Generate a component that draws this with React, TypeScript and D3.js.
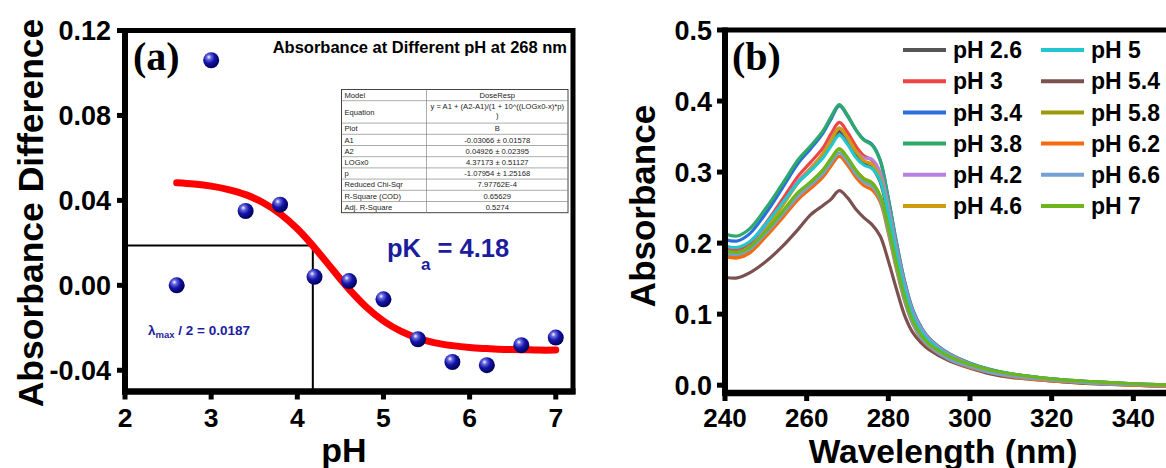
import React from 'react';
import * as d3 from 'd3';

// ---------- Panel (a) data ----------
const phValues = [2.6, 3.0, 3.4, 3.8, 4.2, 4.6, 5.0, 5.4, 5.8, 6.2, 6.6, 7.0];
const absDiff = [0.000, 0.106, 0.035, 0.038, 0.004, 0.002, -0.0066, -0.0254, -0.0361, -0.0376, -0.0282, -0.0246];
const fitPH = [2.6, 2.8, 3.0, 3.2, 3.4, 3.6, 3.8, 4.0, 4.2, 4.4, 4.6, 4.8, 5.0, 5.2, 5.4, 5.6, 5.8, 6.0, 6.2, 6.4, 6.6, 6.8, 7.0];
const fitValues = [0.0483, 0.0477, 0.0467, 0.0451, 0.0427, 0.0390, 0.0337, 0.0266, 0.0177, 0.0079, -0.0018, -0.0102, -0.0168, -0.0216, -0.0249, -0.0271, -0.0284, -0.0293, -0.0298, -0.0302, -0.0303, -0.0305, -0.0305];
const aXTicks = [2, 3, 4, 5, 6, 7];
const aYTicks = [-0.04, 0.0, 0.04, 0.08, 0.12];
const pKa = 4.18;
const halfValue = 0.0187;
const tableLabels = ['Model', 'Equation', 'Plot', 'A1', 'A2', 'LOGx0', 'p', 'Reduced Chi-Sqr', 'R-Square (COD)', 'Adj. R-Square'];
const tableValues = ['DoseResp', 'y = A1 + (A2-A1)/(1 + 10^((LOGx0-x)*p)|)', 'B', '-0.03066 ± 0.01578', '0.04926 ± 0.02395', '4.37173 ± 0.51127', '-1.07954 ± 1.25168', '7.97762E-4', '0.65629', '0.5274'];
const tableRowUnits = [1, 2, 1, 1, 1, 1, 1, 1, 1, 1];

// ---------- Panel (b) data ----------
const wavelengths = [240, 243, 246, 250, 254, 258, 261, 264, 266, 268, 270, 272, 274, 276, 278, 280, 282, 284, 286, 288, 290, 295, 300, 305, 310, 320, 330, 340, 350, 360];
const seriesNames = ['pH 2.6', 'pH 3', 'pH 3.4', 'pH 3.8', 'pH 4.2', 'pH 4.6', 'pH 5', 'pH 5.4', 'pH 5.8', 'pH 6.2', 'pH 6.6', 'pH 7'];
const seriesColors = ['#555555', '#ee4444', '#2a6fdb', '#2fa86c', '#b880e0', '#cc9c0a', '#22c6cf', '#7b514f', '#9a9a08', '#f56a0c', '#74a0d2', '#6cb61c'];
const specPH26 = [0.188, 0.185, 0.194, 0.221, 0.253, 0.286, 0.303, 0.323, 0.341, 0.357, 0.344, 0.325, 0.312, 0.306, 0.286, 0.237, 0.181, 0.131, 0.095, 0.073, 0.060, 0.040, 0.028, 0.020, 0.014, 0.008, 0.004, 0.001, 0.000, -0.002];
const specPH30 = [0.193, 0.190, 0.200, 0.228, 0.261, 0.295, 0.314, 0.334, 0.354, 0.370, 0.356, 0.337, 0.323, 0.317, 0.296, 0.245, 0.187, 0.136, 0.098, 0.076, 0.062, 0.041, 0.029, 0.020, 0.014, 0.008, 0.004, 0.001, -0.001, -0.003];
const specPH34 = [0.205, 0.203, 0.213, 0.242, 0.277, 0.313, 0.333, 0.355, 0.375, 0.393, 0.379, 0.360, 0.346, 0.339, 0.317, 0.263, 0.201, 0.146, 0.106, 0.082, 0.066, 0.044, 0.031, 0.022, 0.016, 0.009, 0.005, 0.002, 0.000, -0.002];
const specPH38 = [0.213, 0.210, 0.220, 0.249, 0.283, 0.318, 0.337, 0.358, 0.378, 0.395, 0.380, 0.360, 0.345, 0.338, 0.316, 0.262, 0.200, 0.145, 0.105, 0.081, 0.066, 0.044, 0.031, 0.022, 0.016, 0.009, 0.005, 0.002, 0.000, -0.002];
const specPH42 = [0.186, 0.183, 0.193, 0.221, 0.254, 0.288, 0.306, 0.326, 0.346, 0.362, 0.348, 0.330, 0.320, 0.318, 0.300, 0.252, 0.194, 0.142, 0.103, 0.080, 0.065, 0.043, 0.030, 0.021, 0.015, 0.008, 0.004, 0.001, 0.000, -0.002];
const specPH46 = [0.183, 0.180, 0.190, 0.218, 0.252, 0.286, 0.305, 0.326, 0.345, 0.362, 0.349, 0.330, 0.316, 0.311, 0.292, 0.242, 0.185, 0.134, 0.097, 0.075, 0.061, 0.041, 0.028, 0.019, 0.013, 0.006, 0.002, 0.000, -0.002, -0.004];
const specPH50 = [0.196, 0.194, 0.202, 0.227, 0.256, 0.286, 0.302, 0.320, 0.337, 0.352, 0.339, 0.321, 0.310, 0.305, 0.288, 0.242, 0.185, 0.135, 0.098, 0.076, 0.062, 0.041, 0.029, 0.020, 0.015, 0.008, 0.004, 0.001, -0.001, -0.002];
const specPH54 = [0.152, 0.151, 0.158, 0.174, 0.195, 0.220, 0.240, 0.253, 0.262, 0.274, 0.264, 0.248, 0.236, 0.226, 0.210, 0.175, 0.135, 0.098, 0.074, 0.060, 0.050, 0.034, 0.024, 0.016, 0.011, 0.006, 0.002, 0.000, -0.002, -0.003];
const specPH58 = [0.185, 0.183, 0.191, 0.214, 0.242, 0.270, 0.286, 0.303, 0.319, 0.333, 0.320, 0.303, 0.291, 0.285, 0.266, 0.221, 0.169, 0.122, 0.089, 0.069, 0.056, 0.037, 0.026, 0.018, 0.013, 0.007, 0.003, 0.000, -0.002, -0.003];
const specPH62 = [0.181, 0.179, 0.186, 0.209, 0.235, 0.262, 0.277, 0.293, 0.309, 0.322, 0.310, 0.293, 0.281, 0.275, 0.258, 0.214, 0.163, 0.118, 0.086, 0.066, 0.054, 0.036, 0.025, 0.018, 0.012, 0.006, 0.003, 0.000, -0.002, -0.003];
const specPH66 = [0.186, 0.184, 0.191, 0.214, 0.240, 0.267, 0.282, 0.298, 0.314, 0.327, 0.315, 0.298, 0.286, 0.280, 0.262, 0.217, 0.166, 0.120, 0.087, 0.067, 0.055, 0.036, 0.026, 0.018, 0.013, 0.007, 0.003, 0.001, -0.001, -0.002];
const specPH70 = [0.189, 0.187, 0.194, 0.217, 0.244, 0.272, 0.286, 0.303, 0.319, 0.332, 0.320, 0.303, 0.290, 0.284, 0.266, 0.222, 0.170, 0.124, 0.091, 0.071, 0.058, 0.040, 0.029, 0.021, 0.016, 0.009, 0.005, 0.002, 0.000, -0.001];
const spectra = [specPH26, specPH30, specPH34, specPH38, specPH42, specPH46, specPH50, specPH54, specPH58, specPH62, specPH66, specPH70];
const bXTicks = [240, 260, 280, 300, 320, 340];
const bYTicks = [0.0, 0.1, 0.2, 0.3, 0.4, 0.5];

const SANS = '"Liberation Sans", Arial, sans-serif';
const SERIF = '"Liberation Serif", "Times New Roman", serif';
const NAVY = '#1c1c9e';

export default function App() {
  // Panel (a) scales
  const xA = d3.scaleLinear().domain([2, 7.2]).range([125, 573]);
  const yA = d3.scaleLinear().domain([-0.05, 0.12]).range([391.5, 30.5]);
  // Panel (b) scales
  const xB = d3.scaleLinear().domain([240, 360]).range([725, 1215]);
  const yB = d3.scaleLinear().domain([-0.011, 0.5]).range([393, 30]);

  const fitLine = d3.line<number>()
    .x((_, i) => xA(fitPH[i]))
    .y((d) => yA(d))
    .curve(d3.curveCatmullRom.alpha(0.5));

  const specLine = d3.line<number>()
    .x((_, i) => xB(wavelengths[i]))
    .y((d) => yB(d))
    .curve(d3.curveCatmullRom.alpha(0.5));

  const fmtA = (v: number) => d3.format('.2f')(v).replace('\u2212', '-');
  const fmtB = (v: number) => d3.format('.1f')(v).replace('\u2212', '-');

  // table geometry
  const tX0 = 341.5, tX1 = 568, tSplit = 426.5, tTop = 89.5, rowH = 11.2;
  let acc = tTop;
  const rows = tableLabels.map((lab, i) => {
    const y0 = acc;
    const h = tableRowUnits[i] * rowH;
    acc += h;
    return { lab, val: tableValues[i], y0, h };
  });

  return (
    <svg width={1166} height={468} style={{ position: 'absolute', left: 0, top: 0, background: '#fff' }}
      fontFamily={SANS}>
      <defs>
        <radialGradient id="sphere" cx="38%" cy="35%" r="65%" fx="35%" fy="30%">
          <stop offset="0%" stopColor="#ffffff" />
          <stop offset="22%" stopColor="#6a6ae0" />
          <stop offset="55%" stopColor="#1414a8" />
          <stop offset="100%" stopColor="#00005a" />
        </radialGradient>
        <clipPath id="clipB">
          <rect x={xB(240)} y={yB(0.5)} width={xB(360) - xB(240)} height={yB(-0.011) - yB(0.5)} />
        </clipPath>
      </defs>

      {/* ================= Panel (a) ================= */}
      {/* table */}
      <g fontFamily={SANS} fontSize={7.6} fill="#222">
        <rect x={tX0} y={tTop} width={tX1 - tX0} height={acc - tTop} fill="#fff" stroke="#444" strokeWidth={1} />
        <line x1={tSplit} x2={tSplit} y1={tTop} y2={acc} stroke="#888" strokeWidth={0.7} />
        {rows.map((r, i) => (
          <g key={i}>
            {i > 0 && <line x1={tX0} x2={tX1} y1={r.y0} y2={r.y0} stroke="#888" strokeWidth={0.7} />}
            <text x={tX0 + 3} y={r.y0 + r.h / 2 + 2.7}>{r.lab}</text>
            {r.val.includes('|') ? (
              r.val.split('|').map((part, k) => (
                <text key={k} x={(tSplit + tX1) / 2} y={r.y0 + 8 + k * 9} textAnchor="middle">{part}</text>
              ))
            ) : (
              <text x={(tSplit + tX1) / 2} y={r.y0 + r.h / 2 + 2.7} textAnchor="middle">{r.val}</text>
            )}
          </g>
        ))}
      </g>

      {/* half-value guide lines */}
      <polyline
        points={`${xA(2)},${yA(halfValue)} ${xA(pKa)},${yA(halfValue)} ${xA(pKa)},${yA(-0.05)}`}
        fill="none" stroke="#000" strokeWidth={2} />

      {/* fit curve */}
      <path d={fitLine(fitValues) || ''} fill="none" stroke="#ff0000" strokeWidth={7} strokeLinecap="round" />

      {/* data points */}
      {phValues.map((p, i) => (
        <circle key={i} cx={xA(p)} cy={yA(absDiff[i])} r={8} fill="url(#sphere)" />
      ))}

      {/* frame a */}
      <rect x={xA(2)} y={yA(0.12)} width={xA(7.2) - xA(2)} height={yA(-0.05) - yA(0.12)} fill="none" stroke="#000" strokeWidth={5} />
      <line x1={xA(2)} x2={xA(2)} y1={yA(0.12) - 2.5} y2={yA(-0.05) + 3} stroke="#000" strokeWidth={6} />
      <line x1={xA(2) - 3} x2={xA(7.2) + 2.5} y1={yA(-0.05)} y2={yA(-0.05)} stroke="#000" strokeWidth={6.5} />

      {/* ticks a */}
      {aYTicks.map((t) => (
        <g key={t}>
          <line x1={xA(2) - 8} x2={xA(2)} y1={yA(t)} y2={yA(t)} stroke="#000" strokeWidth={5} />
          <text x={xA(2) - 14} y={yA(t)} dy="0.36em" textAnchor="end" fontSize={27} fontWeight="bold">{fmtA(t)}</text>
        </g>
      ))}
      {aXTicks.map((t) => (
        <g key={t}>
          <line x1={xA(t)} x2={xA(t)} y1={yA(-0.05)} y2={yA(-0.05) + 8} stroke="#000" strokeWidth={5} />
          <text x={xA(t)} y={427} textAnchor="middle" fontSize={26.5} fontWeight="bold">{t}</text>
        </g>
      ))}

      {/* labels a */}
      <text x={133} y={70} fontFamily={SERIF} fontWeight="bold" fontSize={40}>(a)</text>
      <text x={567} y={53} textAnchor="end" fontSize={16.5} fontWeight="bold">Absorbance at Different pH at 268 nm</text>
      <text x={387} y={257} fontSize={25.5} fontWeight="bold" fill={NAVY}>
        pK<tspan fontSize={17} dy={13}>a</tspan><tspan dy={-13}> = 4.18</tspan>
      </text>
      <text x={148} y={335} fontSize={13.5} fontWeight="bold" fill={NAVY}>
        λ<tspan fontSize={9.5} dy={3}>max</tspan><tspan dy={-3}> / 2 = 0.0187</tspan>
      </text>
      <text transform="translate(43,213) rotate(-90)" textAnchor="middle" fontSize={35.5} fontWeight="bold">Absorbance Difference</text>
      <text x={344} y={462} textAnchor="middle" fontSize={34} fontWeight="bold">pH</text>

      {/* ================= Panel (b) ================= */}
      <g clipPath="url(#clipB)">
        {spectra.map((s, i) => (
          <path key={i} d={specLine(s) || ''} fill="none" stroke={seriesColors[i]} strokeWidth={3.2} strokeLinejoin="round" />
        ))}
      </g>

      {/* frame b */}
      <line x1={xB(240)} x2={1200} y1={yB(0.5)} y2={yB(0.5)} stroke="#000" strokeWidth={5} />
      <line x1={xB(240)} x2={xB(240)} y1={yB(0.5) - 2.5} y2={yB(-0.011) + 3} stroke="#000" strokeWidth={6} />
      <line x1={xB(240) - 3} x2={1200} y1={yB(-0.011)} y2={yB(-0.011)} stroke="#000" strokeWidth={6.5} />

      {bYTicks.map((t) => (
        <g key={t}>
          <line x1={xB(240) - 8} x2={xB(240)} y1={yB(t)} y2={yB(t)} stroke="#000" strokeWidth={5} />
          <text x={xB(240) - 13} y={yB(t)} dy="0.36em" textAnchor="end" fontSize={27} fontWeight="bold">{fmtB(t)}</text>
        </g>
      ))}
      {bXTicks.map((t) => (
        <g key={t}>
          <line x1={xB(t)} x2={xB(t)} y1={yB(-0.011)} y2={yB(-0.011) + 8} stroke="#000" strokeWidth={5} />
          <text x={xB(t)} y={426.5} textAnchor="middle" fontSize={26} fontWeight="bold">{t}</text>
        </g>
      ))}

      <text x={732} y={70} fontFamily={SERIF} fontWeight="bold" fontSize={40}>(b)</text>

      {/* legend */}
      {seriesNames.map((name, i) => {
        const col = i < 6 ? 0 : 1;
        const row = i % 6;
        const lx = col === 0 ? 903 : 1041;
        const cy = 50 + row * 31.2;
        return (
          <g key={name}>
            <line x1={lx} x2={lx + 43} y1={cy} y2={cy} stroke={seriesColors[i]} strokeWidth={4} />
            <text x={lx + 50} y={cy} dy="0.36em" fontSize={23} fontWeight="bold">{name}</text>
          </g>
        );
      })}

      <text transform="translate(655,206) rotate(-90)" textAnchor="middle" fontSize={35} fontWeight="bold">Absorbance</text>
      <text x={943} y={462.5} textAnchor="middle" fontSize={33.5} fontWeight="bold">Wavelength (nm)</text>
    </svg>
  );
}
